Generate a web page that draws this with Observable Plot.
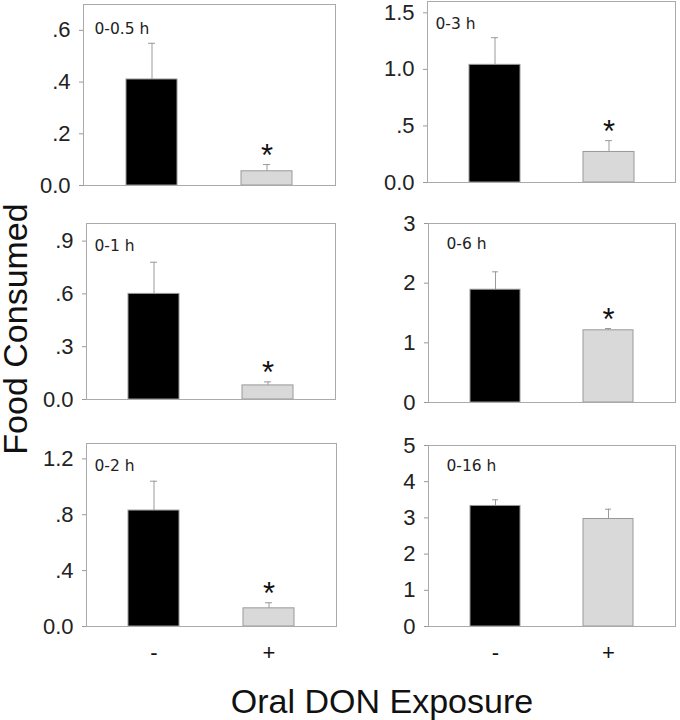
<!DOCTYPE html>
<html>
<head>
<meta charset="utf-8">
<script src="https://cdn.jsdelivr.net/npm/d3@7"></script>
<script src="https://cdn.jsdelivr.net/npm/@observablehq/plot@0.6"></script>
<style>
  body { margin: 0; background: #fff; }
  #chart { position: relative; width: 680px; height: 720px; overflow: hidden;
           font-family: "Liberation Sans", Arial, sans-serif; color: #111; }
  #chart svg { position: absolute; overflow: visible; }
  .title { position: absolute; font-size: 34px; line-height: 1; white-space: nowrap; color: #111; }
</style>
</head>
<body>
<div id="chart"></div>
<script>
// ---- data ----
const groups = ["-", "+"];
const periods = ["0-0.5 h", "0-3 h", "0-1 h", "0-6 h", "0-2 h", "0-16 h"];
const controlMean = [0.41, 1.04, 0.60, 1.89, 0.83, 3.33];
const controlErr  = [0.14, 0.24, 0.18, 0.30, 0.21, 0.17];
const donMean     = [0.055, 0.27, 0.08, 1.21, 0.13, 2.97];
const donErr      = [0.026, 0.10, 0.02, 0.03, 0.04, 0.27];
const significant = [true, true, true, true, true, false];
const yMax        = [0.7, 1.6, 1.0, 3, 1.31, 5];
const yTicks      = [[0, .2, .4, .6], [0, .5, 1, 1.5], [0, .3, .6, .9], [0, 1, 2, 3], [0, .4, .8, 1.2], [0, 1, 2, 3, 4, 5]];
const yTickLabels = [["0.0", ".2", ".4", ".6"], ["0.0", ".5", "1.0", "1.5"], ["0.0", ".3", ".6", ".9"],
                     ["0", "1", "2", "3"], ["0.0", ".4", ".8", "1.2"], ["0", "1", "2", "3", "4", "5"]];
const yTitle = "Food Consumed";
const xTitle = "Oral DON Exposure";

// ---- layout (frame rectangles in page pixels) ----
const frames = [
  {left: 83,  right: 335, top: 4,   bottom: 185, labelDx: 11, labelDy: 29},
  {left: 427, right: 675, top: 1,   bottom: 182, labelDx: 8,  labelDy: 27},
  {left: 86,  right: 335, top: 223, bottom: 399, labelDx: 8,  labelDy: 27},
  {left: 428, right: 675, top: 223, bottom: 402, labelDx: 18, labelDy: 25},
  {left: 86,  right: 336, top: 443, bottom: 626, labelDx: 8,  labelDy: 27},
  {left: 428, right: 675, top: 445, bottom: 626, labelDx: 18, labelDy: 25}
];

const container = document.getElementById("chart");
const ml = 72, mt = 4, mr = 3;

periods.forEach((period, i) => {
  const f = frames[i];
  const bottomRow = i >= 4;
  const mb = bottomRow ? 48 : 6;
  const svgLeft = f.left - ml;
  const svgTop = f.top - mt;
  const width = f.right - svgLeft + mr;
  const height = f.bottom - svgTop + mb;
  const rows = groups.map((g, j) => ({
    group: g,
    mean: j === 0 ? controlMean[i] : donMean[i],
    err: j === 0 ? controlErr[i] : donErr[i],
    sig: j === 1 && significant[i]
  }));
  const plot = Plot.plot({
    width, height,
    marginLeft: ml, marginRight: mr, marginTop: mt, marginBottom: mb,
    style: {fontFamily: '"Liberation Sans", Arial, sans-serif', background: "transparent", overflow: "visible"},
    x: {domain: groups, paddingInner: 0.557, paddingOuter: 0.365, axis: null},
    y: {domain: [0, yMax[i]], axis: null},
    color: {domain: groups, range: ["#000000", "#d9d9d9"]},
    marks: [
      Plot.ruleX(rows, {x: "group", y1: d => d.mean, y2: d => d.mean + d.err, stroke: "#9a9a9a", strokeWidth: 1}),
      Plot.tickY(rows, {x: "group", y: d => d.mean + d.err, stroke: "#9a9a9a", strokeWidth: 1, insetLeft: 22, insetRight: 22}),
      Plot.barY(rows, {x: "group", y: "mean", fill: "group", stroke: "#999", strokeWidth: 1}),
      Plot.text(rows.filter(d => d.sig), {x: "group", y: d => d.mean + d.err, text: () => "*",
        fontSize: 31, lineAnchor: "bottom", dy: 1, fill: "#111"}),
      Plot.frame({stroke: "#aaa", strokeWidth: 1}),
      Plot.axisY({ticks: yTicks[i], tickFormat: d => yTickLabels[i][yTicks[i].indexOf(d)], label: null,
        tickSize: 4, tickPadding: 9, fontSize: 22, stroke: "#999", fill: "#222"}),
      Plot.text([period], {frameAnchor: "top-left", text: d => d, textAnchor: "start", lineAnchor: "bottom",
        dx: f.labelDx, dy: f.labelDy, fontSize: 15.5, fontFamily: '"DejaVu Sans", sans-serif', fill: "#222"}),
      bottomRow ? Plot.axisX({tickSize: 0, tickPadding: 18, fontSize: 22, fill: "#111", label: null}) : null
    ]
  });
  plot.style.left = svgLeft + "px";
  plot.style.top = svgTop + "px";
  container.appendChild(plot);
});

const yt = document.createElement("div");
yt.className = "title";
yt.textContent = yTitle;
yt.style.left = "15px";
yt.style.top = "329px";
yt.style.lineHeight = "28px";
yt.style.transform = "translate(-50%, -50%) rotate(-90deg)";
container.appendChild(yt);

const xt = document.createElement("div");
xt.className = "title";
xt.textContent = xTitle;
xt.style.left = "382px";
xt.style.top = "684px";
xt.style.transform = "translateX(-50%)";
container.appendChild(xt);
</script>
</body>
</html>
